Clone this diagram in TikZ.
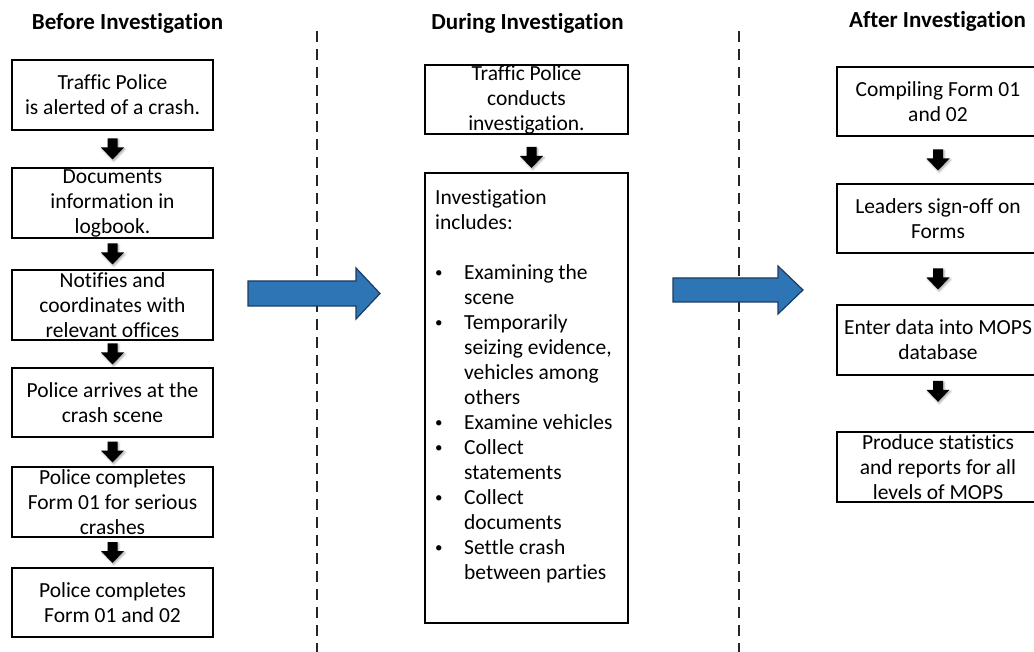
\documentclass[tikz,border=0pt]{standalone}
\usepackage{fontspec}
\setmainfont{Carlito}[Ligatures={NoCommon}]
\usetikzlibrary{calc,shadows.blur}

\definecolor{flowblue}{HTML}{2E75B6}
\definecolor{flowedge}{HTML}{1F3A5F}

\newcommand{\itemdot}{\raisebox{1.5pt}{\fontsize{15}{15}\selectfont\textbullet}}

\tikzset{
  box/.style={draw=black, line width=2.6pt, inner sep=0pt},
  txt/.style={align=center, inner sep=0pt, font=\fontsize{21.5}{25}\selectfont},
  heading/.style={anchor=base, inner sep=0pt, font=\fontsize{23}{26}\selectfont\bfseries},
  divider/.style={line width=1.3pt, black!85, dash pattern=on 11pt off 7pt},
  bigarrow/.style={fill=flowblue, draw=flowedge, line width=1.2pt, line join=miter},
  dn/.pic={
    \path[fill=black, blur shadow={shadow xshift=1.2pt, shadow yshift=-1.5pt,
          shadow blur radius=2pt, shadow opacity=35}]
      (-5,-10.5) -- (5,-10.5) -- (5,-1.5) -- (11.5,-1.5) -- (0,10.5)
      -- (-11.5,-1.5) -- (-5,-1.5) -- cycle;
  }
}

\begin{document}
\begin{tikzpicture}[x={(1pt,0)}, y={(0,-1pt)}]
\useasboundingbox (0,0) rectangle (1034,652);
\clip (0,0) rectangle (1034,652);

% column dividers
\draw[divider] (317,31) coordinate (d1a) -- (317,652) coordinate (d1b);
\draw[divider] (739,31) coordinate (d2a) -- (739,652) coordinate (d2b);

% headings
\node[heading] (h1) at (127.5,30) {Before Investigation};
\node[heading] (h2) at (527.5,30) {During Investigation};
\node[heading] (h3) at (937.5,28) {After Investigation};

% before investigation
\node[box, minimum width=201pt, minimum height=70pt] (b1) at (112.5,95) {};
\node[box, minimum width=201pt, minimum height=70pt] (b2) at (112.5,203) {};
\node[box, minimum width=201pt, minimum height=70pt] (b3) at (112.5,305) {};
\node[box, minimum width=201pt, minimum height=69pt] (b4) at (112.5,402.5) {};
\node[box, minimum width=201pt, minimum height=70pt] (b5) at (112.5,502) {};
\node[box, minimum width=201pt, minimum height=69pt] (b6) at (112.5,602.5) {};
\node[txt] (t1) at (b1) {Traffic Police\\is alerted of a crash.};
\node[txt] (t2) at (b2) {Documents\\information in\\logbook.};
\node[txt] (t3) at (b3) {Notifies and\\coordinates with\\relevant offices};
\node[txt] (t4) at (b4) {Police arrives at the\\crash scene};
\node[txt] (t5) at (b5) {Police completes\\Form 01 for serious\\crashes};
\node[txt] (t6) at (b6) {Police completes\\Form 01 and 02};
\pic at ($(b1.south)!.5!(b2.north)$) {dn};
\pic at ($(b2.south)!.5!(b3.north)$) {dn};
\pic at ($(b3.south)!.5!(b4.north)$) {dn};
\pic at ($(b4.south)!.5!(b5.north)$) {dn};
\pic at ($(b5.south)!.5!(b6.north)$) {dn};

% during investigation
\node[box, minimum width=203pt, minimum height=69pt] (m1) at (526.5,99.5) {};
\node[box, minimum width=203pt, minimum height=450pt] (m2) at (526.5,398) {};
\node[txt] (u1) at (m1) {Traffic Police\\conducts\\investigation.};
\node[txt, anchor=north west, align=left] (u2) at (435,186.5) {%
  \begin{tabular}{@{}p{29pt}@{}l@{}}
  \multicolumn{2}{@{}l@{}}{Investigation}\\
  \multicolumn{2}{@{}l@{}}{includes:}\\
  & \\
  \itemdot & Examining the\\
   & scene\\
  \itemdot & Temporarily\\
   & seizing evidence,\\
   & vehicles among\\
   & others\\
  \itemdot & Examine vehicles\\
  \itemdot & Collect\\
   & statements\\
  \itemdot & Collect\\
   & documents\\
  \itemdot & Settle crash\\
   & between parties
  \end{tabular}};
\pic at ($(m1.south)!.5!(m2.north)+(5,4)$) {dn};

% after investigation
\node[box, minimum width=202pt, minimum height=69pt] (r1) at (938,101.5) {};
\node[box, minimum width=202pt, minimum height=69pt] (r2) at (938,218.5) {};
\node[box, minimum width=202pt, minimum height=70pt] (r3) at (938,340) {};
\node[box, minimum width=202pt, minimum height=70pt] (r4) at (938,467) {};
\node[txt] (v1) at (r1) {Compiling Form 01\\and 02};
\node[txt] (v2) at (r2) {Leaders sign-off on\\Forms};
\node[txt] (v3) at (r3) {Enter data into MOPS\\database};
\node[txt] (v4) at (r4) {Produce statistics\\and reports for all\\levels of MOPS};
\pic at ($(r1.south)!.5!(r2.north)$) {dn};
\pic at ($(r2.south)!.5!(r3.north)$) {dn};
\pic at ($(r3.south)+(0,15)$) {dn};

% phase transitions
\draw[bigarrow] (248,281) -- (356,281) -- (356,268) -- (380,293.5)
  -- (356,319) -- (356,306) -- (248,306) -- cycle;
\draw[bigarrow] (673,278) -- (778,278) -- (778,266) -- (803,290)
  -- (778,314) -- (778,302) -- (673,302) -- cycle;
\end{tikzpicture}
\end{document}
